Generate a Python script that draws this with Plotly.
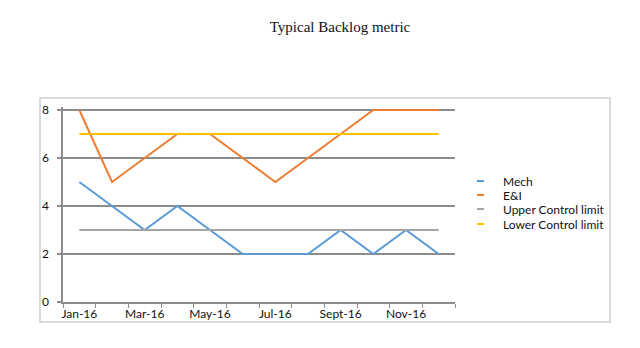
import plotly.graph_objects as go

months = ["Jan-16", "Feb-16", "Mar-16", "Apr-16", "May-16", "Jun-16",
          "Jul-16", "Aug-16", "Sept-16", "Oct-16", "Nov-16", "Dec-16"]
mech = [5, 4, 3, 4, 3, 2, 2, 2, 3, 2, 3, 2]
ei = [8, 5, 6, 7, 7, 6, 5, 6, 7, 8, 8, 8]
upper_limit = [3] * 12
lower_limit = [7] * 12

series_names = ["Mech", "E&I", "Upper Control limit", "Lower Control limit"]
series_values = [mech, ei, upper_limit, lower_limit]
series_colors = ["#5B9BD5", "#ED7D31", "#A5A5A5", "#FFC000"]

xs = list(range(len(months)))

W, H = 640, 348
L, T, PW, PH = 63, 107, 392, 195
B = H - T - PH
R = W - L - PW

def px_to_paper_x(px):
    return (px - L) / PW

def px_to_paper_y(py):
    return (H - B - py) / PH

fig = go.Figure()
for name, vals, col in zip(series_names, series_values, series_colors):
    fig.add_trace(go.Scatter(x=xs, y=vals, mode="lines", name=name,
                             line=dict(color=col, width=2), showlegend=False))

tick_font = dict(family="Lato, Open Sans, sans-serif", size=12, color="#111111")

fig.update_layout(
    width=W, height=H,
    margin=dict(l=L, r=R, t=T, b=B),
    paper_bgcolor="white", plot_bgcolor="white",
    title=dict(text="Typical Backlog metric", x=340 / W, xanchor="center",
               y=1 - 27 / H, yanchor="middle",
               font=dict(family="Liberation Serif, DejaVu Serif, serif", size=15, color="#111111")),
    xaxis=dict(range=[-0.5, len(months) - 0.5], tickvals=xs[::2], ticktext=months[::2],
               ticks="", showgrid=False, zeroline=False, showline=True,
               linecolor="#8c8c8c", linewidth=1.5, tickfont=tick_font,
               minor=dict(tickvals=[i - 0.5 for i in range(len(months) + 1)],
                          ticks="outside", ticklen=4, tickcolor="#8c8c8c", tickwidth=1,
                          showgrid=False)),
    yaxis=dict(range=[0, 8.125], tickvals=[0, 2, 4, 6, 8], ticks="outside", ticklen=4,
               tickcolor="#8c8c8c", tickwidth=1.5,
               showgrid=True, gridcolor="#8c8c8c", gridwidth=1.5, zeroline=False,
               showline=True, linecolor="#8c8c8c", linewidth=1.5, tickfont=tick_font,
               ticklabelstandoff=6),
)

# outer chart border
fig.add_shape(type="rect", xref="paper", yref="paper",
              x0=px_to_paper_x(40), x1=px_to_paper_x(610),
              y0=px_to_paper_y(322), y1=px_to_paper_y(98),
              line=dict(color="#d0d0d0", width=1.5), fillcolor="rgba(0,0,0,0)", layer="below")

# custom legend
leg_y = [181, 195, 209, 224]
for name, col, py in zip(series_names, series_colors, leg_y):
    fig.add_shape(type="line", xref="paper", yref="paper",
                  x0=px_to_paper_x(477), x1=px_to_paper_x(484),
                  y0=px_to_paper_y(py), y1=px_to_paper_y(py),
                  line=dict(color=col, width=2))
    fig.add_annotation(xref="paper", yref="paper", x=px_to_paper_x(501), y=px_to_paper_y(py),
                       text=name, showarrow=False, xanchor="left", yanchor="middle",
                       font=tick_font)

fig.write_html("out.html")
